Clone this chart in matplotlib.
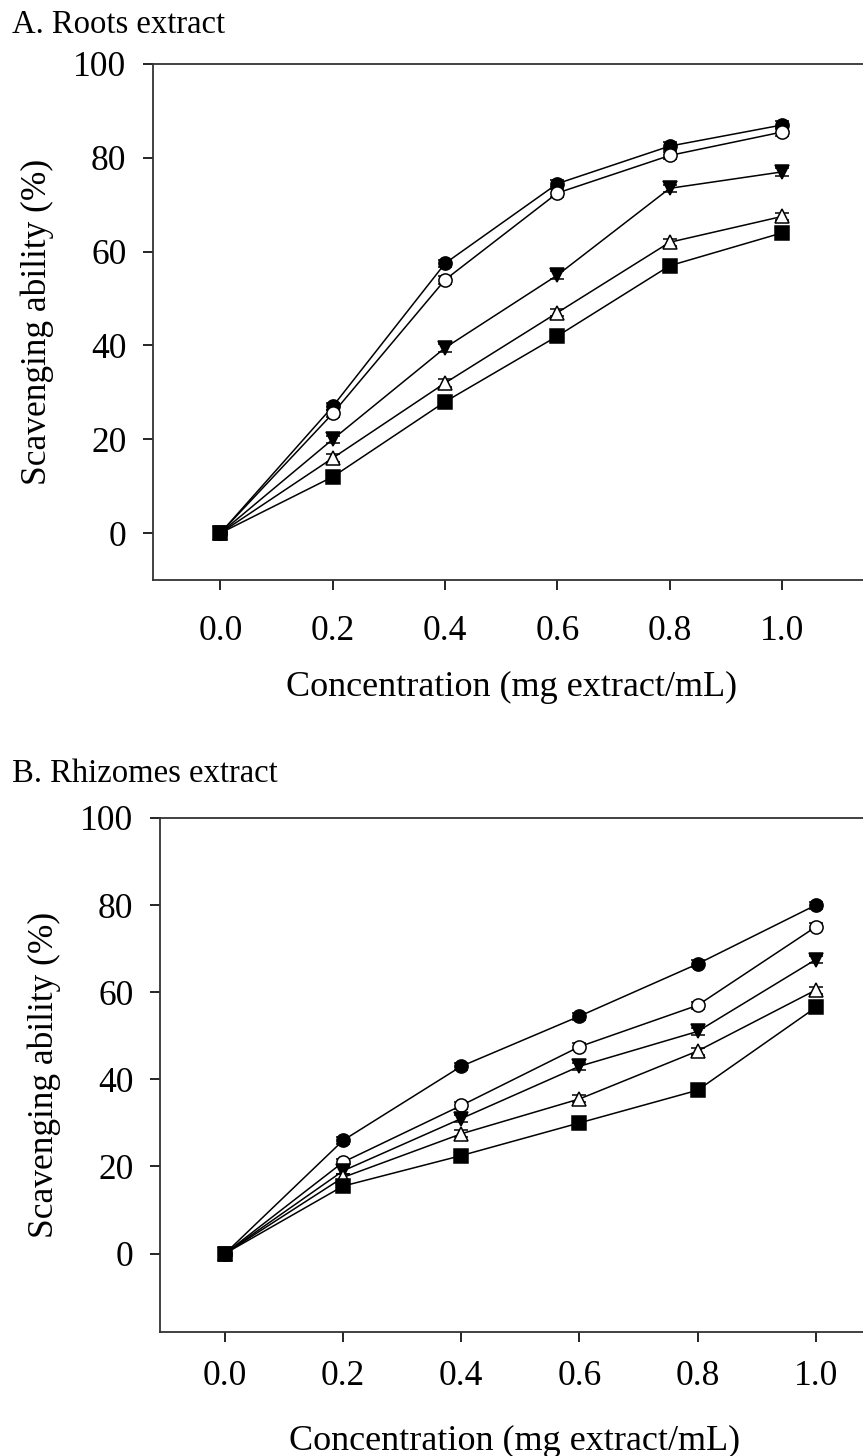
import matplotlib.pyplot as plt
import numpy as np

plt.rcParams['font.family'] = ['Liberation Serif', 'DejaVu Serif']

# concentrations (mg extract/mL)
conc = [0.0, 0.2, 0.4, 0.6, 0.8, 1.0]

# A. roots extract, scavenging ability (%)
roots_circle = [0, 27, 57.5, 74.5, 82.5, 87]
roots_open_circle = [0, 25.5, 54, 72.5, 80.5, 85.5]
roots_tri_down = [0, 20, 39.5, 55, 73.5, 77]
roots_open_tri = [0, 16, 32, 47, 62, 67.5]
roots_square = [0, 12, 28, 42, 57, 64]

# B. rhizomes extract
rhiz_circle = [0, 26, 43, 54.5, 66.5, 80]
rhiz_open_circle = [0, 21, 34, 47.5, 57, 75]
rhiz_tri_down = [0, 19, 31, 43, 51, 67.5]
rhiz_open_tri = [0, 17.5, 27.5, 35.5, 46.5, 60.5]
rhiz_square = [0, 15.5, 22.5, 30, 37.5, 56.5]

err = 0.8

styles = [('o', 'black'), ('o', 'white'), ('v', 'black'), ('^', 'white'), ('s', 'black')]

fig = plt.figure(figsize=(8.63, 14.56), dpi=100)
W, H = 863, 1456

def panel(rect, series, ylim, xlim, title, title_y, xpad, xlab_y, ylab_x):
    l, t, r, b = rect
    ax = fig.add_axes([l / W, 1 - b / H, (r - l) / W, (b - t) / H])
    for ys, (m, fc) in zip(series, styles):
        ax.errorbar(conc, ys, yerr=err, color='black', lw=1.1, marker=m,
                    markersize=9.5, markerfacecolor=fc, markeredgecolor='black',
                    markeredgewidth=1.1, capsize=5, elinewidth=1.0)
    ax.set_xlim(*xlim)
    ax.set_ylim(*ylim)
    ax.set_xticks(conc)
    ax.set_xticklabels(['%.1f' % c for c in conc])
    ax.set_yticks([0, 20, 40, 60, 80, 100])
    ax.spines['right'].set_visible(False)
    for s in ['left', 'bottom', 'top']:
        ax.spines[s].set_linewidth(1.3)
        ax.spines[s].set_color('#333333')
    ax.tick_params(direction='out', length=7, width=1.2, labelsize=25.5,
                   right=False, top=False)
    ax.tick_params(axis='x', pad=xpad)
    ax.tick_params(axis='y', pad=12)
    ax.set_xlabel('Concentration (mg extract/mL)', fontsize=26)
    ax.set_ylabel('Scavenging ability (%)', fontsize=25.5)
    ax.xaxis.set_label_coords(0.505, xlab_y)
    ax.yaxis.set_label_coords(ylab_x, 0.5)
    fig.text(12 / W, 1 - title_y / H, title, fontsize=23.5, va='center', ha='left')
    return ax

panel((153, 64, 863, 580),
      [roots_circle, roots_open_circle, roots_tri_down, roots_open_tri, roots_square],
      (-10, 100), (-0.12, 1.144), 'A. Roots extract', 25, 18.5, -0.176, -0.139)
panel((160, 818, 863, 1332),
      [rhiz_circle, rhiz_open_circle, rhiz_tri_down, rhiz_open_tri, rhiz_square],
      (-18, 100), (-0.11, 1.08), 'B. Rhizomes extract', 774, 13, -0.181, -0.141)

fig.savefig('out.png', dpi=100, facecolor='white')
